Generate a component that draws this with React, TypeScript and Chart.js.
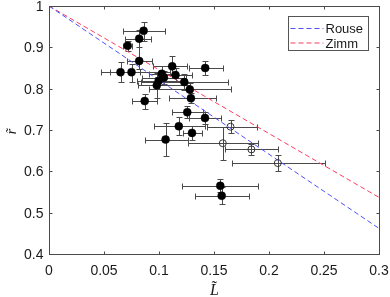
import React, { useEffect, useRef } from 'react';
import { Chart, registerables } from 'chart.js';

Chart.register(...registerables);

// Filled (black) measurements
const filledX = [0.086, 0.082, 0.0715, 0.082, 0.065, 0.075, 0.142, 0.112, 0.115, 0.1025, 0.1045, 0.0997, 0.098, 0.123, 0.128, 0.129, 0.087, 0.1257, 0.1418, 0.118, 0.13, 0.106, 0.1557, 0.157];
const filledY = [0.94, 0.921, 0.904, 0.867, 0.84, 0.84, 0.85, 0.854, 0.833, 0.836, 0.827, 0.819, 0.808, 0.816, 0.798, 0.777, 0.77, 0.743, 0.729, 0.709, 0.693, 0.677, 0.565, 0.541];
const filledXMinus = [0.019, 0.013, 0.004, 0.011, 0.018, 0.02, 0.0145, 0.0175, 0.015, 0.012, 0.02, 0.02, 0.017, 0.039, 0.037, 0.02, 0.012, 0.014, 0.0143, 0.023, 0.0085, 0.019, 0.035, 0.0243];
const filledXPlus = [0.019, 0.011, 0.004, 0.012, 0.018, 0.035, 0.0165, 0.013, 0.015, 0.012, 0.02, 0.025, 0.03, 0.04, 0.037, 0.023, 0.0115, 0.014, 0.015, 0.024, 0.0088, 0.0206, 0.034, 0.025];
const filledYMinus = [0.024, 0.02, 0.012, 0.02, 0.024, 0.025, 0.018, 0.02, 0.018, 0.015, 0.015, 0.02, 0.03, 0.02, 0.015, 0.012, 0.018, 0.014, 0.015, 0.022, 0.016, 0.04, 0.016, 0.02];
const filledYPlus = [0.022, 0.02, 0.012, 0.054, 0.024, 0.02, 0.018, 0.026, 0.018, 0.02, 0.015, 0.02, 0.03, 0.02, 0.015, 0.012, 0.018, 0.014, 0.015, 0.022, 0.016, 0.04, 0.016, 0.02];

// Open-circle measurements
const openX = [0.165, 0.158, 0.184, 0.208];
const openY = [0.708, 0.668, 0.653, 0.62];
const openXMinus = [0.021, 0.032, 0.024, 0.042];
const openXPlus = [0.024, 0.032, 0.0245, 0.043];
const openYMinus = [0.015, 0.04, 0.013, 0.019];
const openYPlus = [0.015, 0.039, 0.013, 0.019];

// Model curves
const modelL = [0, 0.3];
const rouseR = [1, 0.462];
const zimmR = [1, 0.537];

const xTicks = [0, 0.05, 0.1, 0.15, 0.2, 0.25, 0.3];
const xTickLabels = ['0', '0.05', '0.1', '0.15', '0.2', '0.25', '0.3'];
const yTicks = [0.4, 0.5, 0.6, 0.7, 0.8, 0.9, 1];
const yTickLabels = ['0.4', '0.5', '0.6', '0.7', '0.8', '0.9', '1'];

const legendNames = ['Rouse', 'Zimm'];
const ROUSE_COLOR = '#5050ff';
const ZIMM_COLOR = '#ff3d5e';
const AXIS_COLOR = '#4a4a4a';
const TEXT_COLOR = '#1a1a1a';
const FONT = '"Liberation Sans", Arial, sans-serif';

const errorBarPlugin = {
  id: 'errorBars',
  beforeDatasetsDraw(chart: any) {
    const { ctx } = chart;
    const xs = chart.scales.x;
    const ys = chart.scales.y;
    ctx.save();
    ctx.strokeStyle = '#4a4a4a';
    ctx.lineWidth = 1;
    const cap = 3;
    const drawSet = (X: number[], Y: number[], xm: number[], xp: number[], ym: number[], yp: number[]) => {
      for (let i = 0; i < X.length; i++) {
        const px = Math.round(xs.getPixelForValue(X[i])) + 0.5;
        const py = Math.round(ys.getPixelForValue(Y[i])) + 0.5;
        const x0 = Math.round(xs.getPixelForValue(X[i] - xm[i])) + 0.5;
        const x1 = Math.round(xs.getPixelForValue(X[i] + xp[i])) + 0.5;
        const y0 = Math.round(ys.getPixelForValue(Y[i] - ym[i])) + 0.5;
        const y1 = Math.round(ys.getPixelForValue(Y[i] + yp[i])) + 0.5;
        ctx.beginPath();
        ctx.moveTo(x0, py); ctx.lineTo(x1, py);
        ctx.moveTo(x0, py - cap); ctx.lineTo(x0, py + cap);
        ctx.moveTo(x1, py - cap); ctx.lineTo(x1, py + cap);
        ctx.moveTo(px, y0); ctx.lineTo(px, y1);
        ctx.moveTo(px - cap, y0); ctx.lineTo(px + cap, y0);
        ctx.moveTo(px - cap, y1); ctx.lineTo(px + cap, y1);
        ctx.stroke();
      }
    };
    drawSet(filledX, filledY, filledXMinus, filledXPlus, filledYMinus, filledYPlus);
    drawSet(openX, openY, openXMinus, openXPlus, openYMinus, openYPlus);
    ctx.restore();
  },
};

const framePlugin = {
  id: 'frame',
  afterDraw(chart: any) {
    const { ctx, chartArea } = chart;
    const xs = chart.scales.x;
    const ys = chart.scales.y;
    const L = Math.round(chartArea.left) + 0.5;
    const R = Math.round(chartArea.right) + 0.5;
    const T = Math.round(chartArea.top) + 0.5;
    const B = Math.round(chartArea.bottom) + 0.5;
    ctx.save();
    ctx.strokeStyle = AXIS_COLOR;
    ctx.lineWidth = 1;
    ctx.strokeRect(L, T, R - L, B - T);
    const tl = 3;
    ctx.beginPath();
    xTicks.forEach((v) => {
      const p = Math.round(xs.getPixelForValue(v)) + 0.5;
      ctx.moveTo(p, B); ctx.lineTo(p, B - tl);
      ctx.moveTo(p, T); ctx.lineTo(p, T + tl);
    });
    yTicks.forEach((v) => {
      const p = Math.round(ys.getPixelForValue(v)) + 0.5;
      ctx.moveTo(L, p); ctx.lineTo(L + tl, p);
      ctx.moveTo(R, p); ctx.lineTo(R - tl, p);
    });
    ctx.stroke();

    // tick labels
    ctx.fillStyle = TEXT_COLOR;
    ctx.font = `14px ${FONT}`;
    ctx.textAlign = 'center';
    ctx.textBaseline = 'middle';
    xTicks.forEach((v, i) => {
      ctx.fillText(xTickLabels[i], xs.getPixelForValue(v), B + 17);
    });
    ctx.textAlign = 'right';
    yTicks.forEach((v, i) => {
      ctx.fillText(yTickLabels[i], L - 6, ys.getPixelForValue(v) + 1);
    });

    // axis titles
    ctx.font = `italic 16px "Liberation Serif", "DejaVu Serif", serif`;
    ctx.textAlign = 'center';
    ctx.textBaseline = 'alphabetic';
    ctx.fillText('L\u0303', (L + R) / 2, 295);
    ctx.save();
    ctx.translate(16, (T + B) / 2 + 1);
    ctx.rotate(-Math.PI / 2);
    ctx.font = `italic 14px "Liberation Serif", "DejaVu Serif", serif`;
    ctx.fillText('r\u0303', 0, 0);
    ctx.restore();

    // legend
    const lx = 288.5, ly = 16.5, lw = 80, lh = 34;
    ctx.fillStyle = '#ffffff';
    ctx.fillRect(lx, ly, lw, lh);
    ctx.strokeStyle = '#555555';
    ctx.strokeRect(lx, ly, lw, lh);
    const colors = [ROUSE_COLOR, ZIMM_COLOR];
    legendNames.forEach((name, i) => {
      const yy = ly + 12 + i * 14.5;
      ctx.strokeStyle = colors[i];
      ctx.setLineDash([5, 3]);
      ctx.beginPath();
      ctx.moveTo(lx + 2, yy); ctx.lineTo(lx + 35, yy);
      ctx.stroke();
      ctx.setLineDash([]);
      ctx.fillStyle = TEXT_COLOR;
      ctx.font = `13px ${FONT}`;
      ctx.textAlign = 'left';
      ctx.textBaseline = 'middle';
      ctx.fillText(name, lx + 37, yy + 1);
    });
    ctx.restore();
  },
};

export default function App() {
  const ref = useRef<HTMLCanvasElement | null>(null);
  useEffect(() => {
    if (!ref.current) return;
    const chart = new Chart(ref.current, {
      type: 'scatter',
      data: {
        datasets: [
          {
            label: legendNames[0],
            data: modelL.map((v, i) => ({ x: v, y: rouseR[i] })),
            showLine: true,
            borderColor: ROUSE_COLOR,
            borderWidth: 1,
            borderDash: [5, 3],
            pointRadius: 0,
            order: 3,
          },
          {
            label: legendNames[1],
            data: modelL.map((v, i) => ({ x: v, y: zimmR[i] })),
            showLine: true,
            borderColor: ZIMM_COLOR,
            borderWidth: 1,
            borderDash: [5, 3],
            pointRadius: 0,
            order: 3,
          },
          {
            label: 'filled',
            data: filledX.map((v, i) => ({ x: v, y: filledY[i] })),
            backgroundColor: '#000000',
            borderColor: '#000000',
            pointRadius: 4,
            borderWidth: 0.5,
            order: 1,
          },
          {
            label: 'open',
            data: openX.map((v, i) => ({ x: v, y: openY[i] })),
            backgroundColor: 'rgba(0,0,0,0)',
            borderColor: '#333333',
            pointRadius: 3.5,
            borderWidth: 1,
            order: 2,
          },
        ],
      },
      options: {
        responsive: false,
        animation: false,
        events: [],
        layout: { padding: { left: 49, right: 11, top: 6, bottom: 43 } },
        plugins: { legend: { display: false }, tooltip: { enabled: false } },
        scales: {
          x: { type: 'linear', min: 0, max: 0.3, display: false },
          y: { type: 'linear', min: 0.4, max: 1, display: false },
        },
      },
      plugins: [errorBarPlugin, framePlugin],
    });
    return () => chart.destroy();
  }, []);
  return (
    <div style={{ position: 'fixed', left: 0, top: 0, width: 390, height: 297, background: '#fff' }}>
      <canvas ref={ref} width={390} height={297} style={{ width: 390, height: 297, display: 'block' }} />
    </div>
  );
}
